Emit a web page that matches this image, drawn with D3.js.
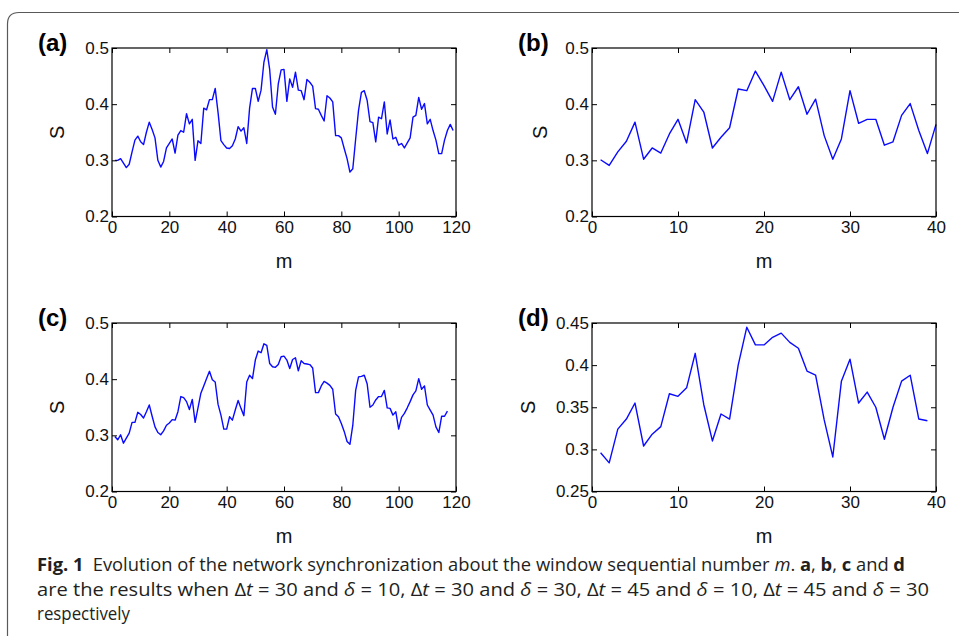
<!DOCTYPE html>
<html>
<head>
<meta charset="utf-8">
<script src="https://cdn.jsdelivr.net/npm/d3@7"></script>
<style>
  html, body { margin: 0; padding: 0; background: #fff; }
  svg { display: block; }
</style>
</head>
<body>
<svg id="chart" width="959" height="636"></svg>
<script>
// ---------------- DATA ----------------
const seriesA = [0.300,0.300,0.303,0.295,0.287,0.293,0.315,0.336,0.343,0.333,
  0.328,0.350,0.368,0.355,0.340,0.300,0.288,0.298,0.322,0.330,
  0.338,0.313,0.345,0.353,0.350,0.383,0.365,0.373,0.300,0.335,
  0.330,0.393,0.390,0.408,0.408,0.428,0.385,0.335,0.328,0.322,
  0.321,0.326,0.338,0.360,0.352,0.358,0.330,0.393,0.428,0.428,
  0.405,0.425,0.475,0.497,0.462,0.395,0.382,0.436,0.461,0.462,
  0.405,0.445,0.430,0.457,0.425,0.424,0.408,0.444,0.439,0.432,
  0.392,0.391,0.380,0.370,0.415,0.411,0.404,0.344,0.344,0.340,
  0.321,0.303,0.279,0.285,0.338,0.389,0.421,0.424,0.407,0.369,
  0.367,0.333,0.377,0.374,0.404,0.347,0.372,0.338,0.341,0.327,
  0.330,0.322,0.331,0.340,0.377,0.380,0.412,0.391,0.401,0.365,
  0.373,0.353,0.336,0.312,0.312,0.336,0.353,0.364,0.353];
const seriesB = [0.301,0.291,0.315,0.334,0.368,0.302,0.322,0.313,0.347,0.373,
  0.331,0.408,0.386,0.322,0.341,0.358,0.427,0.424,0.459,0.433,
  0.405,0.457,0.408,0.431,0.382,0.409,0.344,0.302,0.338,0.424,
  0.366,0.373,0.373,0.327,0.333,0.380,0.401,0.353,0.312,0.364];
const seriesC = [0.298,0.292,0.301,0.286,0.295,0.304,0.323,0.323,0.341,0.337,
  0.331,0.342,0.354,0.334,0.315,0.305,0.301,0.308,0.318,0.322,
  0.328,0.327,0.342,0.369,0.367,0.360,0.346,0.364,0.323,0.349,
  0.375,0.388,0.401,0.414,0.399,0.395,0.355,0.336,0.311,0.311,
  0.333,0.327,0.345,0.362,0.348,0.335,0.395,0.407,0.401,0.434,
  0.450,0.447,0.463,0.460,0.428,0.422,0.421,0.426,0.440,0.441,
  0.434,0.419,0.435,0.438,0.415,0.433,0.428,0.427,0.426,0.420,
  0.376,0.376,0.388,0.396,0.393,0.389,0.382,0.338,0.333,0.321,
  0.307,0.289,0.284,0.318,0.380,0.404,0.405,0.407,0.392,0.350,
  0.354,0.363,0.369,0.369,0.380,0.349,0.348,0.336,0.342,0.311,
  0.332,0.339,0.349,0.360,0.372,0.379,0.401,0.382,0.388,0.354,
  0.345,0.336,0.315,0.305,0.334,0.334,0.343];
const seriesD = [0.296,0.284,0.324,0.336,0.355,0.304,0.318,0.327,0.366,0.363,
  0.373,0.414,0.353,0.310,0.342,0.336,0.400,0.445,0.424,0.424,
  0.433,0.438,0.427,0.420,0.393,0.388,0.335,0.291,0.381,0.407,
  0.355,0.368,0.350,0.312,0.350,0.381,0.388,0.336,0.334];

const panelLabels = ["(a)", "(b)", "(c)", "(d)"];
const xTicksLong = [0, 20, 40, 60, 80, 100, 120];
const xTicksShort = [0, 10, 20, 30, 40];
const yTicksMain = [0.2, 0.3, 0.4, 0.5];
const yTicksD = [0.25, 0.3, 0.35, 0.4, 0.45];
const yTickLabelsMain = ["0.2", "0.3", "0.4", "0.5"];
const yTickLabelsD = ["0.25", "0.3", "0.35", "0.4", "0.45"];
const xLabel = "m";
const yLabel = "S";

// ---------------- LAYOUT ----------------
const svg = d3.select("#chart");
const FONT = "'Liberation Sans', Arial, Helvetica, sans-serif";

// frame
svg.append("path")
  .attr("d", "M7.5,636 L7.5,24 Q7.5,12.5 19,12.5 L959,12.5")
  .attr("fill", "none").attr("stroke", "#58595b").attr("stroke-width", 1.2);

const panels = [
  { label: panelLabels[0], data: seriesA, x0: 112, x1: 456, y0: 48, y1: 216.5,
    xd: [0, 120], xt: xTicksLong, yd: [0.2, 0.5], yt: yTicksMain, ytl: yTickLabelsMain, ylx: 57 },
  { label: panelLabels[1], data: seriesB, x0: 592, x1: 936, y0: 48, y1: 216.5,
    xd: [0, 40], xt: xTicksShort, yd: [0.2, 0.5], yt: yTicksMain, ytl: yTickLabelsMain, ylx: 540 },
  { label: panelLabels[2], data: seriesC, x0: 112, x1: 456, y0: 323, y1: 491.5,
    xd: [0, 120], xt: xTicksLong, yd: [0.2, 0.5], yt: yTicksMain, ytl: yTickLabelsMain, ylx: 57 },
  { label: panelLabels[3], data: seriesD, x0: 592, x1: 936, y0: 323, y1: 491.5,
    xd: [0, 40], xt: xTicksShort, yd: [0.25, 0.45], yt: yTicksD, ytl: yTickLabelsD, ylx: 528 }
];

panels.forEach(p => {
  const x = d3.scaleLinear().domain(p.xd).range([p.x0, p.x1]);
  const y = d3.scaleLinear().domain(p.yd).range([p.y1, p.y0]);
  const g = svg.append("g");
  const tk = 5;

  // data line
  const line = d3.line().x((d, i) => x(i + 1)).y(d => y(d));
  g.append("path").datum(p.data)
    .attr("d", line)
    .attr("fill", "none").attr("stroke", "#0a0aff")
    .attr("stroke-width", 1.4).attr("stroke-linejoin", "round");

  // axes with inward ticks on all four sides
  const axB = d3.axisBottom(x).tickValues(p.xt).tickSizeInner(-tk).tickSizeOuter(0).tickPadding(6);
  const axT = d3.axisTop(x).tickValues(p.xt).tickSizeInner(-tk).tickSizeOuter(0).tickFormat("");
  const axL = d3.axisLeft(y).tickValues(p.yt).tickSizeInner(-tk).tickSizeOuter(0).tickPadding(3)
    .tickFormat((d, i) => p.ytl[i]);
  const axR = d3.axisRight(y).tickValues(p.yt).tickSizeInner(-tk).tickSizeOuter(0).tickFormat("");

  const gB = g.append("g").attr("transform", `translate(0,${p.y1})`).call(axB);
  const gT = g.append("g").attr("transform", `translate(0,${p.y0})`).call(axT);
  const gL = g.append("g").attr("transform", `translate(${p.x0},0)`).call(axL);
  const gR = g.append("g").attr("transform", `translate(${p.x1},0)`).call(axR);
  [gB, gT, gL, gR].forEach(a => {
    a.attr("font-family", null).attr("font-size", null);
    a.select(".domain").remove();
    a.selectAll(".tick line").attr("stroke", "#000").attr("stroke-width", 1);
    a.selectAll("text")
      .style("font-family", FONT).style("font-size", "17px").attr("fill", "#111");
  });
  gB.selectAll(".tick text").attr("dy", "0.6em");

  // box
  g.append("rect").attr("x", p.x0).attr("y", p.y0)
    .attr("width", p.x1 - p.x0).attr("height", p.y1 - p.y0)
    .attr("fill", "none").attr("stroke", "#000").attr("stroke-width", 1.2);

  // axis labels
  g.append("text").attr("x", (p.x0 + p.x1) / 2).attr("y", p.y1 + 51)
    .attr("text-anchor", "middle")
    .style("font-family", FONT).style("font-size", "20px")
    .attr("fill", "#111").text(xLabel);
  g.append("text")
    .attr("transform", `translate(${p.ylx + 7},${(p.y0 + p.y1) / 2}) rotate(-90)`)
    .attr("text-anchor", "middle")
    .style("font-family", FONT).style("font-size", "20px")
    .attr("fill", "#111").text(yLabel);

  // panel label
  g.append("text").attr("x", p.x0 - 74).attr("y", p.y0 + 3)
    .style("font-family", FONT).style("font-weight", "bold").style("font-size", "24px")
    .attr("fill", "#000").text(p.label);
});

// ---------------- CAPTION ----------------
const CFONT = "'Open Sans', 'Liberation Sans', sans-serif";
const cap = svg.append("g").style("font-family", CFONT).style("font-size", "18px").attr("fill", "#231f20");

const l1 = cap.append("text").attr("x", 37).attr("y", 571)
  .attr("textLength", 868).attr("lengthAdjust", "spacingAndGlyphs");
l1.append("tspan").style("font-weight", "bold").text("Fig. 1");
l1.append("tspan").text("\u2002Evolution of the network synchronization about the window sequential number ");
l1.append("tspan").style("font-style", "italic").text("m");
l1.append("tspan").text(". ");
l1.append("tspan").style("font-weight", "bold").text("a");
l1.append("tspan").text(", ");
l1.append("tspan").style("font-weight", "bold").text("b");
l1.append("tspan").text(", ");
l1.append("tspan").style("font-weight", "bold").text("c");
l1.append("tspan").text(" and ");
l1.append("tspan").style("font-weight", "bold").text("d");

const l2 = cap.append("text").attr("x", 37).attr("y", 596)
  .attr("textLength", 892).attr("lengthAdjust", "spacingAndGlyphs");
const conds = [["30", "10"], ["30", "30"], ["45", "10"], ["45", "30"]];
l2.append("tspan").text("are the results when ");
conds.forEach((c, i) => {
  l2.append("tspan").text("\u0394");
  l2.append("tspan").style("font-style", "italic").text("t");
  l2.append("tspan").text(" = " + c[0] + " and ");
  l2.append("tspan").style("font-style", "italic").text("\u03b4");
  l2.append("tspan").text(" = " + c[1] + (i < conds.length - 1 ? ", " : ""));
});

cap.append("text").attr("x", 37).attr("y", 620)
  .attr("textLength", 93).attr("lengthAdjust", "spacingAndGlyphs").text("respectively");
</script>
</body>
</html>
